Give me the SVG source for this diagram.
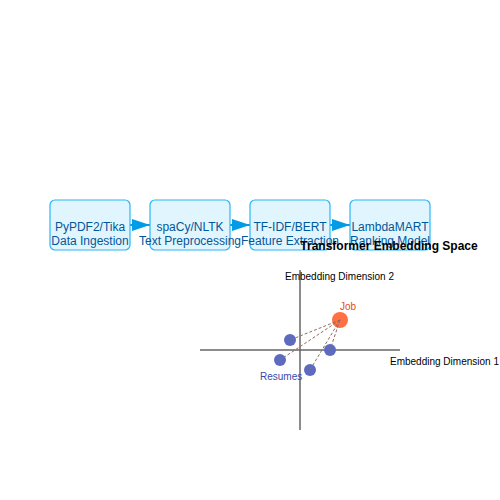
<svg xmlns="http://www.w3.org/2000/svg" width="500" height="500" viewBox="0 0 500 500">
<defs>
<style>
.box{fill:#e1f5fe;stroke:#29b6f6;stroke-width:1.2}
.lbl{font-family:"Liberation Sans",Arial,sans-serif;font-size:12px;fill:#01579b;text-anchor:middle}
.flow{stroke:#039be5;stroke-width:2;fill:none}
.axis{stroke:#666;stroke-width:1.5}
.ax{font-family:"Liberation Sans",Arial,sans-serif;font-size:10px;fill:#000}
.res{fill:#5c6bc0}
.sim{stroke:#8d6e63;stroke-width:1;stroke-dasharray:3,2;fill:none}
</style>
<marker id="ah" markerWidth="18" markerHeight="12" refX="18" refY="6" orient="auto" markerUnits="userSpaceOnUse">
<path d="M0,0 L18,6 L0,12 Z" fill="#039be5"/>
</marker>
</defs>
<rect width="500" height="500" fill="#fff"/>
<g id="connectors">
<line class="flow" x1="130" y1="225" x2="150" y2="225" marker-end="url(#ah)"/>
<line class="flow" x1="230" y1="225" x2="250" y2="225" marker-end="url(#ah)"/>
<line class="flow" x1="330" y1="225" x2="350" y2="225" marker-end="url(#ah)"/>
</g>
<g id="node-ingestion">
<rect class="box" x="50" y="200" width="80" height="50" rx="5"/>
<text class="lbl" x="90" y="231">PyPDF2/Tika</text>
<text class="lbl" x="90" y="245">Data Ingestion</text>
</g>
<g id="node-preprocessing">
<rect class="box" x="150" y="200" width="80" height="50" rx="5"/>
<text class="lbl" x="190" y="231">spaCy/NLTK</text>
<text class="lbl" x="190" y="245">Text Preprocessing</text>
</g>
<g id="node-features">
<rect class="box" x="250" y="200" width="80" height="50" rx="5"/>
<text class="lbl" x="290" y="231">TF-IDF/BERT</text>
<text class="lbl" x="290" y="245">Feature Extraction</text>
</g>
<g id="node-ranking">
<rect class="box" x="350" y="200" width="80" height="50" rx="5"/>
<text class="lbl" x="390" y="231">LambdaMART</text>
<text class="lbl" x="390" y="245">Ranking Model</text>
</g>
<g id="embedding-space">
<text x="389" y="250" font-family="Liberation Sans,Arial,sans-serif" font-size="12" font-weight="bold" text-anchor="middle" fill="#000">Transformer Embedding Space</text>
<line class="axis" x1="300" y1="270" x2="300" y2="430"/>
<line class="axis" x1="200" y1="350" x2="400" y2="350"/>
<text class="ax" x="285" y="280">Embedding Dimension 2</text>
<text class="ax" x="390" y="365">Embedding Dimension 1</text>
<circle cx="340" cy="320" r="8" fill="#ff7043"/>
<text x="340" y="310" font-family="Liberation Sans,Arial,sans-serif" font-size="10" fill="#e64a19">Job</text>
<circle class="res" cx="290" cy="340" r="6"/>
<circle class="res" cx="280" cy="360" r="6"/>
<circle class="res" cx="330" cy="350" r="6"/>
<circle class="res" cx="310" cy="370" r="6"/>
<text x="260" y="380" font-family="Liberation Sans,Arial,sans-serif" font-size="10" fill="#3949ab">Resumes</text>
</g>
<g id="similarity-links">
<line class="sim" x1="340" y1="320" x2="290" y2="340"/>
<line class="sim" x1="340" y1="320" x2="280" y2="360"/>
<line class="sim" x1="340" y1="320" x2="330" y2="350"/>
<line class="sim" x1="340" y1="320" x2="310" y2="370"/>
</g>
</svg>
